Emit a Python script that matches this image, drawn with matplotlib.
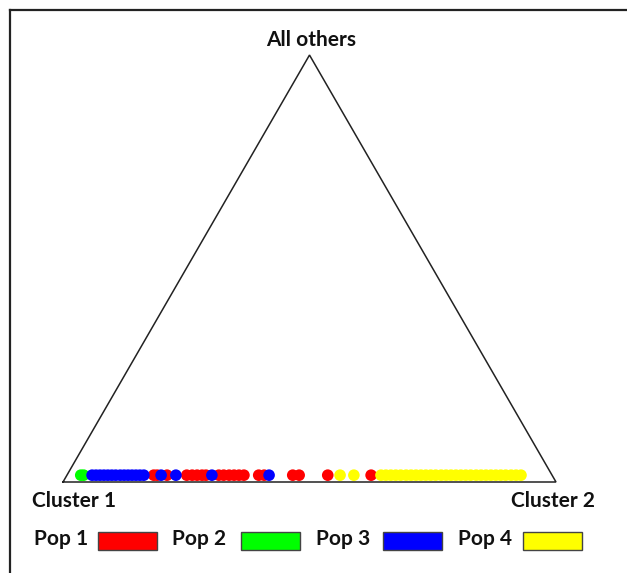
import numpy as np
import matplotlib
matplotlib.use("Agg")
import matplotlib.pyplot as plt
from matplotlib.lines import Line2D
from matplotlib.patches import Rectangle

# ---- data: membership fraction in "Cluster 2" for each individual ----
pop_names = ["Pop 1", "Pop 2", "Pop 3", "Pop 4"]
pop_colors = ["#FF0000", "#00FF00", "#0000FF", "#FFFF00"]

pop1_cluster2 = [0.176, 0.183, 0.203, 0.243, 0.254, 0.264, 0.274, 0.282,
                 0.308, 0.318, 0.329, 0.339, 0.349, 0.359, 0.389, 0.400,
                 0.458, 0.471, 0.529, 0.617]
pop2_cluster2 = [0.028, 0.034]
pop3_cluster2 = [0.051, 0.059, 0.067, 0.075, 0.083, 0.091, 0.099, 0.108,
                 0.116, 0.124, 0.132, 0.140, 0.148, 0.156, 0.191, 0.221,
                 0.294, 0.410]
pop4_cluster2 = [0.554, 0.582, 0.637, 0.647, 0.657, 0.667, 0.677, 0.688,
                 0.698, 0.708, 0.718, 0.728, 0.738, 0.748, 0.759, 0.769,
                 0.779, 0.789, 0.799, 0.809, 0.819, 0.830, 0.840, 0.850,
                 0.860, 0.870, 0.880, 0.890, 0.901, 0.911, 0.921]
others_fraction = 0.016  # membership in "All others" (near zero for all)

vertex_labels = ["Cluster 1", "Cluster 2", "All others"]

W, H = 627, 573
fig = plt.figure(figsize=(W / 100, H / 100), dpi=100)
fig.patch.set_facecolor("white")
ax = fig.add_axes([0, 0, 1, 1])
ax.axis("off")

# pixel layout of triangle
base_left_px, base_right_px, base_y_px = 63, 556, 482
scale = base_right_px - base_left_px
ax.set_xlim(-base_left_px / scale, (W - base_left_px) / scale)
ax.set_ylim(-(H - base_y_px) / scale, base_y_px / scale)

h = np.sqrt(3) / 2
tri_x = [0, 1, 0.5, 0]
tri_y = [0, 0, h, 0]
ax.plot(tri_x, tri_y, color="#222222", lw=1.1, solid_joinstyle="miter")

def to_xy(c2, a):
    c2 = np.asarray(c2, float)
    a = np.full_like(c2, a)
    return c2 + 0.5 * a, a * h

for vals, col in zip([pop1_cluster2, pop2_cluster2, pop3_cluster2, pop4_cluster2], pop_colors):
    x, y = to_xy(vals, others_fraction)
    ax.scatter(x, y, s=70, color=col, edgecolors="none", zorder=3)

font = "Lato"
fs = 15
def ftxt(xpx, ypx, s, ha="center"):
    fig.text(xpx / W, 1 - ypx / H, s, ha=ha, va="center", fontsize=fs,
             fontweight="bold", family=[font, "DejaVu Sans"], color="#111111")

ftxt(311, 40, vertex_labels[2])
ftxt(74, 501, vertex_labels[0])
ftxt(553, 501, vertex_labels[1])

text_x = [34, 172, 316, 458]
box_x = [98, 241, 383, 523]
for name, col, tx, bx in zip(pop_names, pop_colors, text_x, box_x):
    ftxt(tx, 539, name, ha="left")
    fig.add_artist(Rectangle((bx / W, 1 - 550 / H), 59 / W, 18 / H,
                             transform=fig.transFigure, facecolor=col,
                             edgecolor="#444444", lw=1.0))

# frame lines (left and top)
fig.add_artist(Line2D([10 / W, 10 / W], [0, 1 - 10 / H], transform=fig.transFigure,
                      color="#222222", lw=1.6))
fig.add_artist(Line2D([10 / W, 1], [1 - 10 / H, 1 - 10 / H], transform=fig.transFigure,
                      color="#222222", lw=1.6))

fig.savefig("out.png", dpi=100, facecolor="white")
